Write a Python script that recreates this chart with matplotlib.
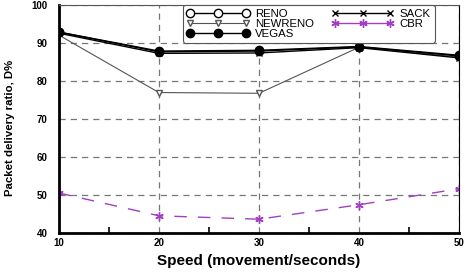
import matplotlib
matplotlib.use("Agg")
import matplotlib.pyplot as plt
from matplotlib.lines import Line2D
from matplotlib.ticker import MultipleLocator

plt.rcParams['font.family'] = ['Liberation Sans', 'DejaVu Sans']

speed = [10, 20, 30, 40, 50]
reno = [92.8, 87.8, 88.0, 89.0, 86.7]
sack = [92.5, 87.2, 87.3, 88.7, 86.0]
newreno = [92.0, 76.9, 76.7, 88.8, 86.2]
vegas = [92.8, 87.6, 87.8, 88.9, 86.5]
cbr = [50.5, 44.5, 43.6, 47.4, 51.6]

fig = plt.figure(figsize=(4.67, 2.74), dpi=100)
ax = fig.add_axes([0.126, 0.150, 0.857, 0.833])

ax.plot(speed, reno, color="black", lw=1.0, marker="o", mfc="white", mec="black", ms=6, label="RENO")
ax.plot(speed, newreno, color="#555555", lw=0.8, marker="v", mfc="white", mec="#555555", ms=5, label="NEWRENO")
ax.plot(speed, vegas, color="black", lw=1.0, marker="o", mfc="black", mec="black", ms=6, label="VEGAS")
ax.plot(speed, sack, color="black", lw=1.0, marker="x", mec="black", ms=5, label="SACK")
ax.plot(speed, cbr, color="#a040c0", lw=1.0, dashes=(9, 8), marker=(6, 2, 0), mec="#a040c0", ms=6, label="CBR")

ax.set_xlim(10, 50)
ax.set_ylim(40, 100)
ax.xaxis.set_major_locator(MultipleLocator(10))
ax.xaxis.set_minor_locator(MultipleLocator(5))
ax.yaxis.set_major_locator(MultipleLocator(10))
ax.grid(True, which="major", color="#777777", ls=(0, (5, 4)), lw=0.9)
ax.tick_params(axis="both", which="both", direction="in", labelsize=7, length=0)
ax.tick_params(axis="x", which="minor", length=4, width=1.2, color="black")
for lbl in ax.get_xticklabels() + ax.get_yticklabels():
    lbl.set_fontweight("bold")
ax.tick_params(axis="x", pad=4)
ax.tick_params(axis="y", pad=8)

ax.spines["left"].set_linewidth(2.0)
ax.spines["bottom"].set_linewidth(2.0)
ax.spines["top"].set_linewidth(0.8)
ax.spines["right"].set_linewidth(0.8)
ax.spines["top"].set_color("#555555")
ax.spines["right"].set_color("black")

ax.set_xlabel("Speed (movement/seconds)", fontsize=11, fontweight="bold", labelpad=4)
ax.set_ylabel("Packet delivery ratio, D%", fontsize=8.2, fontweight="bold")
ax.yaxis.set_label_coords(-0.11, 0.46)

handles, labels = ax.get_legend_handles_labels()
handles[-1] = Line2D([], [], color="#a040c0", lw=1.0, ls="-", marker=(6, 2, 0),
                     mec="#a040c0", ms=6)

leg = ax.legend(handles, labels, ncol=2, loc="upper left", bbox_to_anchor=(0.31, 1.0), numpoints=3,
                fontsize=8.2, frameon=True, fancybox=True, handlelength=5.5,
                columnspacing=1.5, handletextpad=0.5, labelspacing=0.0,
                borderpad=0.35, borderaxespad=0.0, framealpha=1)
leg.get_frame().set_edgecolor("#555555")
leg.get_frame().set_linewidth(0.8)

fig.savefig("out.png", dpi=100)
